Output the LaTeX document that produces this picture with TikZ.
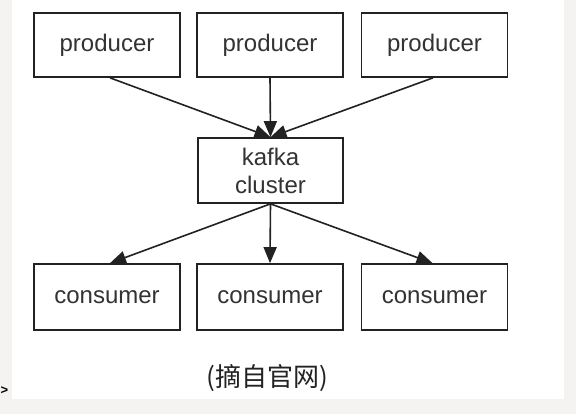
\documentclass[tikz,border=0pt]{standalone}
\usepackage{fontspec}
\setmainfont{Liberation Sans}
\newfontfamily\cjk{Noto Sans CJK SC}
\usetikzlibrary{arrows.meta}
\definecolor{bggray}{HTML}{F4F3F1}
\definecolor{ink}{HTML}{222222}
\definecolor{txt}{HTML}{333333}
\tikzset{
  box/.style={draw=ink, line width=1.7pt, fill=white, minimum width=146pt, minimum height=64pt, inner sep=0pt, text=txt, font=\fontsize{24}{28}\selectfont, align=center},
  conn/.style={draw=ink, line width=1.6pt, -{Triangle[length=16pt,width=13pt]}}
}
\begin{document}
\begin{tikzpicture}[x=1pt,y=-1pt]
\useasboundingbox (0,0) rectangle (576,414);
\fill[bggray] (0,0) rectangle (576,414);
\fill[white] (12,0) rectangle (564,399);
\node[box] (p1) at (107,45) {producer};
\node[box] (p2) at (270,45) {producer};
\node[box] (p3) at (434.5,45) {producer};
\node[box, minimum width=145pt, minimum height=65pt] (k) at (270.5,170.5) {kafka\\cluster};
\node[box, minimum height=66pt] (c1) at (107,297) {consumer};
\node[box, minimum height=66pt] (c2) at (270,297) {consumer};
\node[box, minimum height=66pt] (c3) at (434.5,297) {consumer};
\draw[conn] ([xshift=3pt]p1.south) -- (k.north);
\draw[conn] (p2.south) -- (k.north);
\draw[conn] ([xshift=-1.5pt]p3.south) -- (k.north);
\draw[conn] (k.south) -- ([xshift=3pt]c1.north);
\draw[conn] (k.south) -- (c2.north);
\draw[conn] (k.south) -- ([xshift=-2pt]c3.north);
\node[text=ink, font=\cjk\fontsize{26}{30}\selectfont, inner sep=0pt] (cap) at (267,378) {(摘自官网)};
\node[text=black, font=\bfseries\fontsize{13}{15}\selectfont, inner sep=0pt, anchor=west] (gt) at (0.5,391) {>};
\end{tikzpicture}
\end{document}
